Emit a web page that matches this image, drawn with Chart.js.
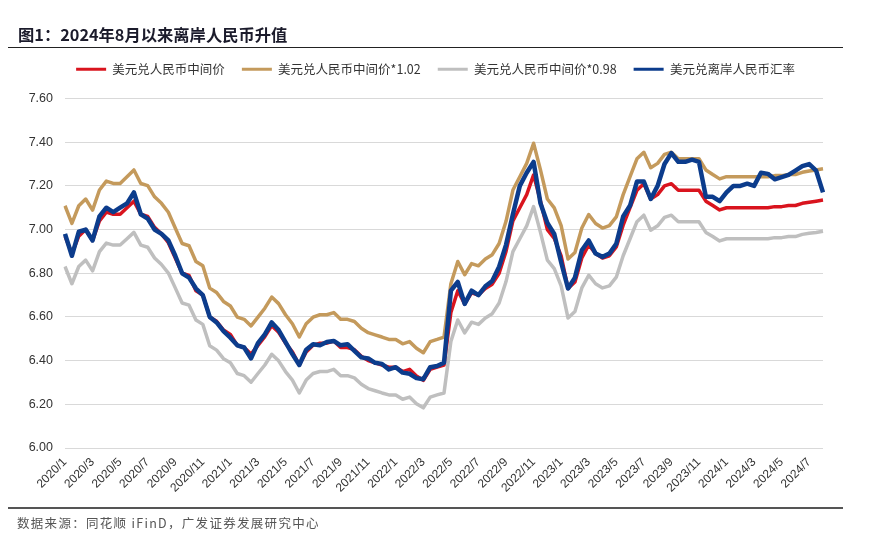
<!DOCTYPE html>
<html>
<head>
<meta charset="utf-8">
<script src="https://cdn.jsdelivr.net/npm/chart.js@4.4.1/dist/chart.umd.min.js"></script>
<style>
body { margin: 0; background: #fff; }
#wrap { position: relative; width: 871px; height: 541px; overflow: hidden; }
#grafico { position: absolute; left: 0; top: 0; }
#titulo { position: absolute; left: 18px; top: 22px; font: bold 16.3px "Noto Sans CJK SC"; color: #1b1b2b; white-space: nowrap; }
#linha1 { position: absolute; left: 8px; top: 47px; width: 835px; border-top: 1.5px solid #222; }
#linha2 { position: absolute; left: 8px; top: 507px; width: 835px; border-top: 2px solid #555; }
#fonte { position: absolute; left: 17px; top: 513px; font: 12.5px "Noto Sans CJK SC"; letter-spacing: 1.3px; color: #555; white-space: nowrap; }
</style>
</head>
<body>
<div id="wrap">
  <canvas id="grafico" width="871" height="541"></canvas>
  <div id="titulo">图1：2024年8月以来离岸人民币升值</div>
  <div id="linha1"></div>
  <div id="linha2"></div>
  <div id="fonte">数据来源：同花顺 iFinD，广发证券发展研究中心</div>
</div>
<script>
// datas: dia 1 e dia 16 de cada mês, 2020/1 até 2024/8
const datas = []
for (let a = 2020; a <= 2024; a++) {
    for (let m = 1; m <= 12; m++) {
        if (a === 2024 && m > 8) break
        datas.push(a + '/' + m + '/1')
        if (!(a === 2024 && m === 8)) datas.push(a + '/' + m + '/16')
    }
}

const nomes = ['美元兑人民币中间价', '美元兑人民币中间价*1.02', '美元兑人民币中间价*0.98', '美元兑离岸人民币汇率']

const meio = [6.97, 6.89, 6.97, 7.00, 6.95, 7.04, 7.08, 7.07, 7.07, 7.10, 7.13, 7.07, 7.06, 7.01, 6.98, 6.94,
    6.87, 6.80, 6.79, 6.72, 6.70, 6.60, 6.58, 6.54, 6.52, 6.47, 6.46, 6.43, 6.47, 6.51, 6.56, 6.53,
    6.48, 6.44, 6.38, 6.44, 6.47, 6.48, 6.48, 6.49, 6.46, 6.46, 6.45, 6.42, 6.40, 6.39, 6.38, 6.37,
    6.37, 6.35, 6.36, 6.33, 6.31, 6.36, 6.37, 6.38, 6.62, 6.72, 6.66, 6.71, 6.70, 6.73, 6.75, 6.80,
    6.90, 7.04, 7.10, 7.16, 7.25, 7.13, 7.00, 6.96, 6.88, 6.73, 6.76, 6.87, 6.93, 6.89, 6.87, 6.88,
    6.92, 7.02, 7.10, 7.18, 7.21, 7.14, 7.16, 7.20, 7.21, 7.18, 7.18, 7.18, 7.18, 7.13, 7.11, 7.09,
    7.10, 7.10, 7.10, 7.10, 7.10, 7.10, 7.10, 7.105, 7.105, 7.11, 7.11, 7.12, 7.125, 7.13, 7.135]

const meio102 = [7.109, 7.028, 7.109, 7.140, 7.089, 7.181, 7.222, 7.211, 7.211, 7.242, 7.273, 7.211, 7.201, 7.150, 7.120, 7.079,
    7.007, 6.936, 6.926, 6.854, 6.834, 6.732, 6.712, 6.671, 6.650, 6.599, 6.589, 6.559, 6.599, 6.640, 6.691, 6.661,
    6.610, 6.569, 6.508, 6.569, 6.599, 6.610, 6.610, 6.620, 6.589, 6.589, 6.579, 6.548, 6.528, 6.518, 6.508, 6.497,
    6.497, 6.477, 6.487, 6.457, 6.436, 6.487, 6.497, 6.508, 6.752, 6.854, 6.793, 6.844, 6.834, 6.865, 6.885, 6.936,
    7.038, 7.181, 7.242, 7.303, 7.395, 7.273, 7.140, 7.099, 7.018, 6.865, 6.895, 7.007, 7.069, 7.028, 7.007, 7.018,
    7.058, 7.160, 7.242, 7.324, 7.354, 7.283, 7.303, 7.344, 7.354, 7.324, 7.324, 7.324, 7.324, 7.273, 7.252, 7.232,
    7.242, 7.242, 7.242, 7.242, 7.242, 7.242, 7.242, 7.247, 7.247, 7.252, 7.252, 7.262, 7.268, 7.273, 7.278]

const meio098 = [6.831, 6.752, 6.831, 6.860, 6.811, 6.899, 6.938, 6.929, 6.929, 6.958, 6.987, 6.929, 6.919, 6.870, 6.840, 6.801,
    6.733, 6.664, 6.654, 6.586, 6.566, 6.468, 6.448, 6.409, 6.390, 6.341, 6.331, 6.301, 6.341, 6.380, 6.429, 6.399,
    6.350, 6.311, 6.252, 6.311, 6.341, 6.350, 6.350, 6.360, 6.331, 6.331, 6.321, 6.292, 6.272, 6.262, 6.252, 6.243,
    6.243, 6.223, 6.233, 6.203, 6.184, 6.233, 6.243, 6.252, 6.488, 6.586, 6.527, 6.576, 6.566, 6.595, 6.615, 6.664,
    6.762, 6.899, 6.958, 7.017, 7.105, 6.987, 6.860, 6.821, 6.742, 6.595, 6.625, 6.733, 6.791, 6.752, 6.733, 6.742,
    6.782, 6.880, 6.958, 7.036, 7.066, 6.997, 7.017, 7.056, 7.066, 7.036, 7.036, 7.036, 7.036, 6.987, 6.968, 6.948,
    6.958, 6.958, 6.958, 6.958, 6.958, 6.958, 6.958, 6.963, 6.963, 6.968, 6.968, 6.978, 6.983, 6.987, 6.992]

const offshore = [6.98, 6.88, 6.99, 7.00, 6.95, 7.06, 7.10, 7.08, 7.10, 7.12, 7.17, 7.07, 7.05, 7.00, 6.98, 6.95,
    6.88, 6.80, 6.78, 6.73, 6.70, 6.60, 6.575, 6.535, 6.505, 6.47, 6.46, 6.41, 6.48, 6.52, 6.575, 6.54,
    6.485, 6.43, 6.38, 6.45, 6.475, 6.47, 6.485, 6.49, 6.47, 6.475, 6.445, 6.415, 6.41, 6.39, 6.385, 6.36,
    6.37, 6.345, 6.34, 6.32, 6.315, 6.37, 6.375, 6.39, 6.72, 6.76, 6.66, 6.72, 6.70, 6.74, 6.765, 6.83,
    6.93, 7.07, 7.20, 7.26, 7.31, 7.12, 7.03, 6.98, 6.85, 6.73, 6.78, 6.905, 6.95, 6.89, 6.875, 6.89,
    6.935, 7.06, 7.11, 7.22, 7.22, 7.14, 7.20, 7.30, 7.35, 7.31, 7.31, 7.32, 7.31, 7.15, 7.15, 7.13,
    7.17, 7.20, 7.20, 7.21, 7.20, 7.26, 7.255, 7.23, 7.24, 7.25, 7.27, 7.29, 7.30, 7.27, 7.17]

const cores = ['#d9141e', '#c49a5c', '#bfbfbf', '#0c3c8c']

const grafico = document.getElementById('grafico')

// eixo vazio so para reservar espaco
const eixoVazio = (pos, tam) => ({
    type: 'linear',
    position: pos,
    display: true,
    ticks: { display: false },
    grid: { display: false },
    border: { display: false },
    afterFit: function (s) {
        if (pos === 'top') s.height = tam
        else s.width = tam
    }
})

new Chart(grafico, {
    type: 'line',
    data: {
        labels: datas,
        datasets: [
            { label: nomes[0], data: meio, borderColor: cores[0], backgroundColor: cores[0], borderWidth: 3.5, order: 2 },
            { label: nomes[1], data: meio102, borderColor: cores[1], backgroundColor: cores[1], borderWidth: 3.5, order: 3 },
            { label: nomes[2], data: meio098, borderColor: cores[2], backgroundColor: cores[2], borderWidth: 3.5, order: 4 },
            { label: nomes[3], data: offshore, borderColor: cores[3], backgroundColor: cores[3], borderWidth: 4.5, order: 1 }
        ]
    },
    options: {
        responsive: false,
        animation: false,
        elements: { point: { radius: 0 }, line: { tension: 0, borderJoinStyle: 'round' } },
        layout: { padding: { top: 46, right: 0, left: 0, bottom: 0 } },
        plugins: {
            tooltip: { enabled: false },
            legend: {
                labels: {
                    boxWidth: 30,
                    boxHeight: 3,
                    padding: 17,
                    color: '#333',
                    font: { family: 'Noto Sans CJK SC', size: 12.5 },
                    sort: (a, b) => a.datasetIndex - b.datasetIndex,
                    generateLabels: function (chart) {
                        const itens = Chart.defaults.plugins.legend.labels.generateLabels(chart)
                        itens.forEach(it => { it.lineWidth = 0; it.fillStyle = it.strokeStyle })
                        return itens
                    }
                }
            }
        },
        scales: {
            x: {
                grid: { display: false, drawTicks: false },
                border: { display: false },
                ticks: {
                    autoSkip: false,
                    minRotation: 45,
                    maxRotation: 45,
                    padding: 7,
                    color: '#333',
                    font: { family: 'Liberation Sans', size: 12 },
                    callback: function (v, i) {
                        const p = datas[i].split('/')
                        if (p[2] === '1' && Number(p[1]) % 2 === 1) return p[0] + '/' + p[1]
                        return null
                    }
                },
                afterFit: function (s) { s.height = 93 }
            },
            y: {
                min: 6,
                max: 7.6,
                grid: { color: '#d9d9d9', drawTicks: false },
                border: { display: false },
                ticks: {
                    stepSize: 0.2,
                    padding: 12,
                    color: '#333',
                    font: { family: 'Liberation Sans', size: 12.5 },
                    callback: v => v.toFixed(2)
                },
                afterFit: function (s) { s.width = 65 }
            },
            xTopo: eixoVazio('top', 13),
            yDir: eixoVazio('right', 48)
        }
    }
})
</script>
</body>
</html>
